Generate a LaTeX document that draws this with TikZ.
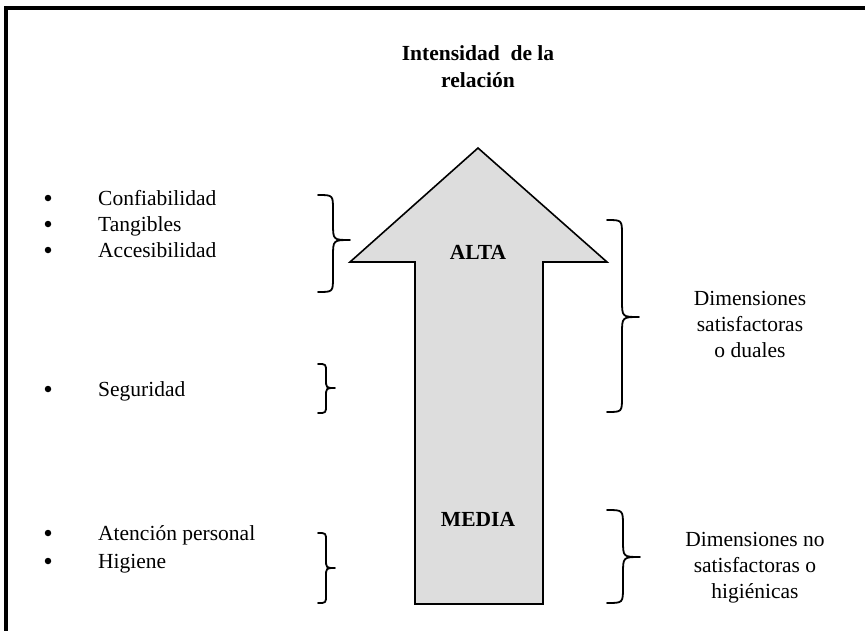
\documentclass[tikz,border=0pt]{standalone}
\usepackage{fontspec}
\setmainfont{Liberation Serif}
\definecolor{arrowfill}{RGB}{221,221,221}
\newcommand\brc[6]{\draw[bracestyle] (#1,#4) .. controls (#2,#4) .. (#2,{#4+(#2-#1)}) -- (#2,{#5-(#3-#2)}) .. controls (#2,#5) .. (#3,#5) .. controls (#2,#5) .. (#2,{#5+(#3-#2)}) -- (#2,{#6-(#2-#1)}) .. controls (#2,#6) .. (#1,#6);}
\begin{document}
\begin{tikzpicture}[x=1pt,y=-1pt,
  txt/.style={inner sep=0pt,font=\fontsize{21.5}{26}\selectfont},
  bold/.style={txt,font=\fontsize{21.5}{27}\selectfont\bfseries},
  bracestyle/.style={line width=1.8pt,line join=round,line cap=round},
  item/.style={txt,anchor=base west},
  bul/.style={circle,fill=black,inner sep=0pt,minimum size=6.5pt}]
\useasboundingbox (0,0) rectangle (865,630);
\fill[white] (0,0) rectangle (865,630);
% frame
\draw[line width=4.2pt,line join=miter] (6,632) -- (6,8) -- (867,8);
% arrow
\draw[fill=arrowfill,line width=1.6pt,line join=miter]
  (415,604) -- (415,262) -- (350,262) -- (478,148) -- (607,262) -- (543,262) -- (543,604) -- cycle;
% title
\node[bold,align=center] (title) at (478,67) {Intensidad\ \ de la\\relación};
\node[bold] (alta) at (478,252) {ALTA};
\node[bold] (media) at (478,519) {MEDIA};
% left items
\node[bul] (b1) at (48,198) {};
\node[item] (i1) at (98,205) {Confiabilidad};
\node[bul] (b2) at (48,224) {};
\node[item] (i2) at (98,231) {Tangibles};
\node[bul] (b3) at (48,250) {};
\node[item] (i3) at (98,257) {Accesibilidad};
\node[bul] (b4) at (48,389) {};
\node[item] (i4) at (98,396) {Seguridad};
\node[bul] (b5) at (48,533) {};
\node[item] (i5) at (98,540) {Atención personal};
\node[bul] (b6) at (48,561) {};
\node[item] (i6) at (98,568) {Higiene};
% right texts
\node[txt,align=center] (d1) at (750,324) {Dimensiones\\satisfactoras\\o duales};
\node[txt,align=center] (d2) at (755,568) {Dimensiones no\\satisfactoras o\\higiénicas};
% braces
\brc{318}{333}{350}{195}{240}{292}
\brc{318}{326}{335}{364}{388}{413}
\brc{318}{326}{335}{533}{568}{603}
\brc{607}{622}{639}{220}{317}{412}
\brc{607}{623}{640}{510}{557}{603}
\end{tikzpicture}
\end{document}
